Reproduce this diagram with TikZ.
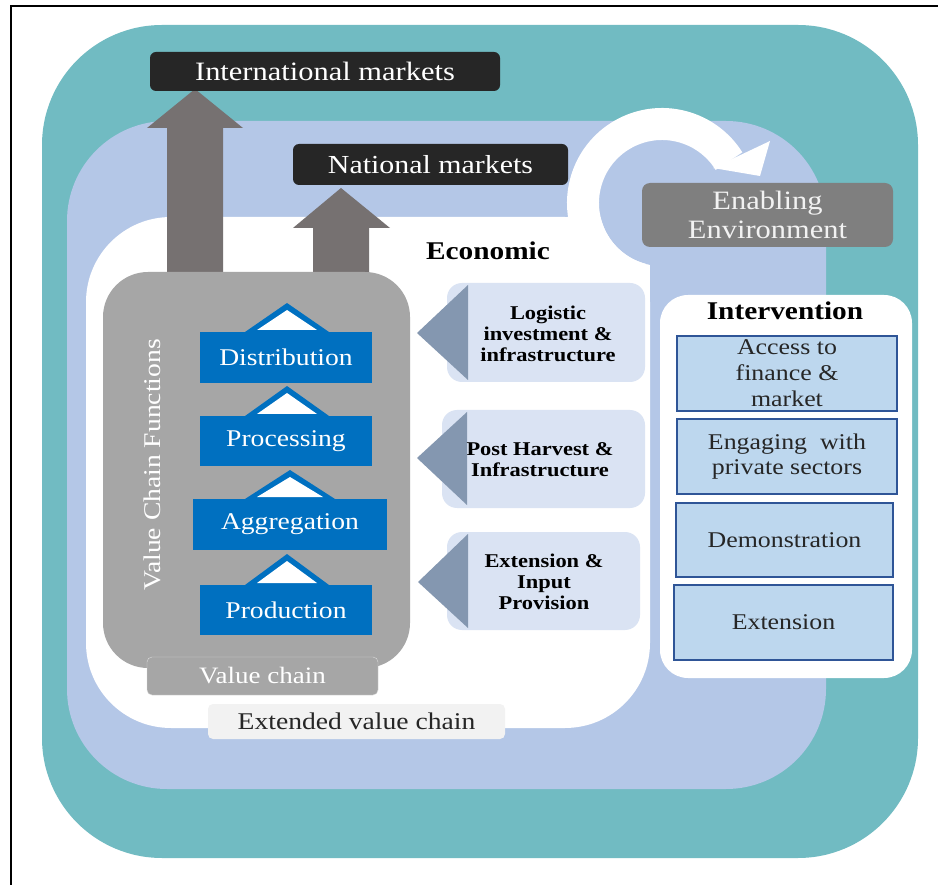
\documentclass[tikz,border=0pt]{standalone}
\usepackage{fontspec}
\setmainfont{Liberation Serif}[FakeStretch=1.15]
\definecolor{tealbg}{HTML}{71BBC2}
\definecolor{lblue}{HTML}{B4C7E7}
\definecolor{darkbox}{HTML}{262626}
\definecolor{arrgray}{HTML}{767171}
\definecolor{boxgray}{HTML}{A6A6A6}
\definecolor{vcblue}{HTML}{0070C0}
\definecolor{panelfill}{HTML}{DAE3F3}
\definecolor{trifill}{HTML}{8497B0}
\definecolor{ivfill}{HTML}{BDD7EE}
\definecolor{ivdraw}{HTML}{2F5597}
\definecolor{envgray}{HTML}{7F7F7F}
\definecolor{lightgray}{HTML}{F2F2F2}
\newcommand{\fs}[1]{\fontsize{#1}{#1}\selectfont}
\newcommand{\vcchev}[4]{%
  \fill[vcblue] ({#1-#4},#3) -- (#1,#2) -- ({#1+#4},#3) -- cycle;
  \fill[white] ({#1-#4+12},{#3-2}) -- (#1,{#2+7}) -- ({#1+#4-12},{#3-2}) -- cycle;}
\begin{document}
\begin{tikzpicture}[x=1pt,y=-1pt,
  mkt/.style={fill=darkbox, rounded corners=6pt, text=white, inner sep=0pt, font=\fs{26.5}},
  vcbox/.style={fill=vcblue, text=white, inner sep=0pt, minimum height=51pt, font=\fs{24}},
  panelbox/.style={fill=panelfill, rounded corners=15pt},
  paneltext/.style={align=center, font=\bfseries\fontsize{19.5}{21}\selectfont, text=black},
  ivbox/.style={fill=ivfill, draw=ivdraw, line width=1.5pt, inner sep=0pt, align=center, text=darkbox},
  labelbox/.style={rounded corners=5pt, inner sep=0pt}]
\useasboundingbox (0,0) rectangle (938,885);
\fill[white] (0,0) rectangle (938,885);
\draw[line width=2pt] (10.5,885) -- (10.5,6.5) -- (938,6.5);
% nested backgrounds
\fill[tealbg, rounded corners=120pt] (42,25) rectangle (918,858);
\fill[lblue, rounded corners=100pt] (67,121) rectangle (826,789);
\fill[white, rounded corners=85pt] (86,217) rectangle (650,728);
\fill[white] (560,217) rectangle (650,305);
% circular arrow
\coordinate (rc) at (662,203);
\fill[lblue] (rc) circle (63);
\draw[white, line width=32pt] (rc) ++(105:79) arc (105:328:79);
\fill[white] (713,168) -- (770,141) -- (760,176) -- cycle;
% market arrows
\fill[arrgray] (167,275) -- (167,128) -- (147,128) -- (195,89) -- (243,128) -- (223,128) -- (223,275) -- cycle;
\fill[arrgray] (313,275) -- (313,228) -- (293,228) -- (341,188) -- (390,228) -- (369,228) -- (369,275) -- cycle;
\node[mkt, minimum width=350pt, minimum height=39pt] (intl) at (325,71.5) {International markets};
\node[mkt, minimum width=275pt, minimum height=41pt, font=\fs{26}] (natl) at (430.5,164.5) {National markets};
% enabling environment
\node[fill=envgray, rounded corners=8pt, minimum width=251pt, minimum height=64pt, inner sep=0pt,
      text=lightgray, align=center, font=\fontsize{26.5}{29}\selectfont] (env) at (767.5,215) {Enabling\\Environment};
% value chain functions
\node[fill=boxgray, rounded corners=45pt, minimum width=307pt, minimum height=396pt, inner sep=0pt] (vcf) at (256.5,470) {};
\node[rotate=90, text=white, font=\fs{24}, inner sep=0pt] (vcft) at (152,465) {Value Chain Functions};
\vcchev{287}{303}{332}{42}
\vcchev{287}{386}{416}{42}
\vcchev{290}{470}{499}{45}
\vcchev{287}{554}{585}{42}
\node[vcbox, minimum width=172pt] (dist) at (286,357.5) {Distribution};
\node[vcbox, minimum width=172pt, minimum height=50pt] (proc) at (286,441) {Processing};
\node[vcbox, minimum width=194pt] (aggr) at (290,524.5) {Aggregation};
\node[vcbox, minimum width=172pt, minimum height=50pt] (prod) at (286,610) {Production};
\node[labelbox, fill=boxgray, draw=lightgray!70!boxgray, minimum width=231pt, minimum height=38pt,
      text=white, font=\fs{23.5}] (vc) at (262.5,676) {Value chain};
% economic panels
\node[font=\bfseries\fs{25.5}, inner sep=0pt] (econ) at (488,251) {Economic};
\fill[panelfill, rounded corners=15pt] (447,283) rectangle (645,382);
\fill[trifill] (417,333) -- (468,285) -- (468,380) -- cycle;
\node[paneltext] (log) at (548,334) {Logistic\\investment \&\\infrastructure};
\fill[panelfill, rounded corners=15pt] (442,410) rectangle (645,508);
\fill[trifill] (417,458) -- (467,412) -- (467,505) -- cycle;
\node[paneltext] (post) at (540,460) {Post Harvest \&\\Infrastructure};
\fill[panelfill, rounded corners=15pt] (447,532) rectangle (640,630);
\fill[trifill] (418,582) -- (468,534) -- (468,628) -- cycle;
\node[paneltext] (ext) at (544,582) {Extension \&\\Input\\Provision};
\node[labelbox, fill=lightgray, minimum width=297pt, minimum height=35pt, text=darkbox, font=\fs{24}] (evc) at (356.5,721.5) {Extended value chain};
% intervention
\node[fill=white, rounded corners=28pt, minimum width=252pt, minimum height=383pt, inner sep=0pt] (iv) at (786,486.5) {};
\node[font=\bfseries\fs{25.5}, inner sep=0pt] (ivt) at (785,311) {Intervention};
\node[ivbox, minimum width=220pt, minimum height=75pt, font=\fontsize{22.5}{26}\selectfont] (iv1) at (787,373.5) {Access to\\finance \&\\market};
\node[ivbox, minimum width=220pt, minimum height=75pt, font=\fontsize{22.5}{25}\selectfont] (iv2) at (787,456.5) {Engaging\ \ with\\private sectors};
\node[ivbox, minimum width=217pt, minimum height=74pt, font=\fs{22.5}] (iv3) at (784.5,540) {Demonstration};
\node[ivbox, minimum width=219pt, minimum height=75pt, font=\fs{22.5}] (iv4) at (783.5,622.5) {Extension};
\end{tikzpicture}
\end{document}
